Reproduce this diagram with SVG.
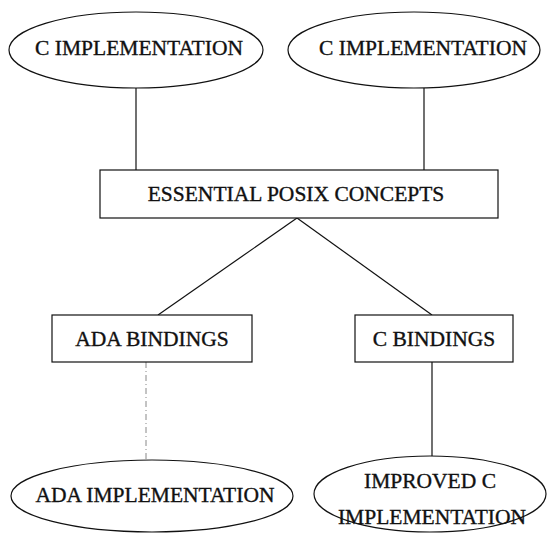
<svg xmlns="http://www.w3.org/2000/svg" width="549" height="533" viewBox="0 0 549 533">
<style>
.shape{fill:#fff;stroke:#111;stroke-width:1.2}
.lbl{font-family:"Liberation Serif","Times New Roman",serif;font-size:21.5px;fill:#111;stroke:#111;stroke-width:0.35;text-anchor:middle}
.edge{stroke:#111;stroke-width:1.2;fill:none}
.faint{stroke:#888;stroke-width:1;fill:none;stroke-dasharray:6 3 1 3}
</style>
<rect width="549" height="533" fill="#fff"/>
<g id="connectors">
<line class="edge" x1="136" y1="88" x2="136" y2="170"/>
<line class="edge" x1="424" y1="88" x2="424" y2="170"/>
<line class="edge" x1="297" y1="218" x2="158" y2="315"/>
<line class="edge" x1="297" y1="218" x2="432" y2="315"/>
<line class="faint" x1="146" y1="362" x2="146" y2="460"/>
<line class="edge" x1="432" y1="362" x2="432" y2="456"/>
</g>
<g id="c-impl-1">
<ellipse class="shape" cx="136" cy="50" rx="127" ry="38"/>
<text class="lbl" x="139" y="55">C IMPLEMENTATION</text>
</g>
<g id="c-impl-2">
<ellipse class="shape" cx="414" cy="50" rx="126" ry="38"/>
<text class="lbl" x="423" y="55">C IMPLEMENTATION</text>
</g>
<g id="posix">
<rect class="shape" x="100" y="170" width="398" height="48"/>
<text class="lbl" x="296" y="201">ESSENTIAL POSIX CONCEPTS</text>
</g>
<g id="ada-bindings">
<rect class="shape" x="52" y="315" width="200" height="47"/>
<text class="lbl" x="152" y="346">ADA BINDINGS</text>
</g>
<g id="c-bindings">
<rect class="shape" x="355" y="315" width="158" height="47"/>
<text class="lbl" x="434" y="346">C BINDINGS</text>
</g>
<g id="ada-impl">
<ellipse class="shape" cx="152" cy="496" rx="141" ry="36"/>
<text class="lbl" x="155" y="502">ADA IMPLEMENTATION</text>
</g>
<g id="improved-c">
<ellipse class="shape" cx="430" cy="494" rx="116" ry="38"/>
<text class="lbl" x="430" y="488">IMPROVED C</text>
<text class="lbl" x="432" y="524">IMPLEMENTATION</text>
</g>
</svg>
